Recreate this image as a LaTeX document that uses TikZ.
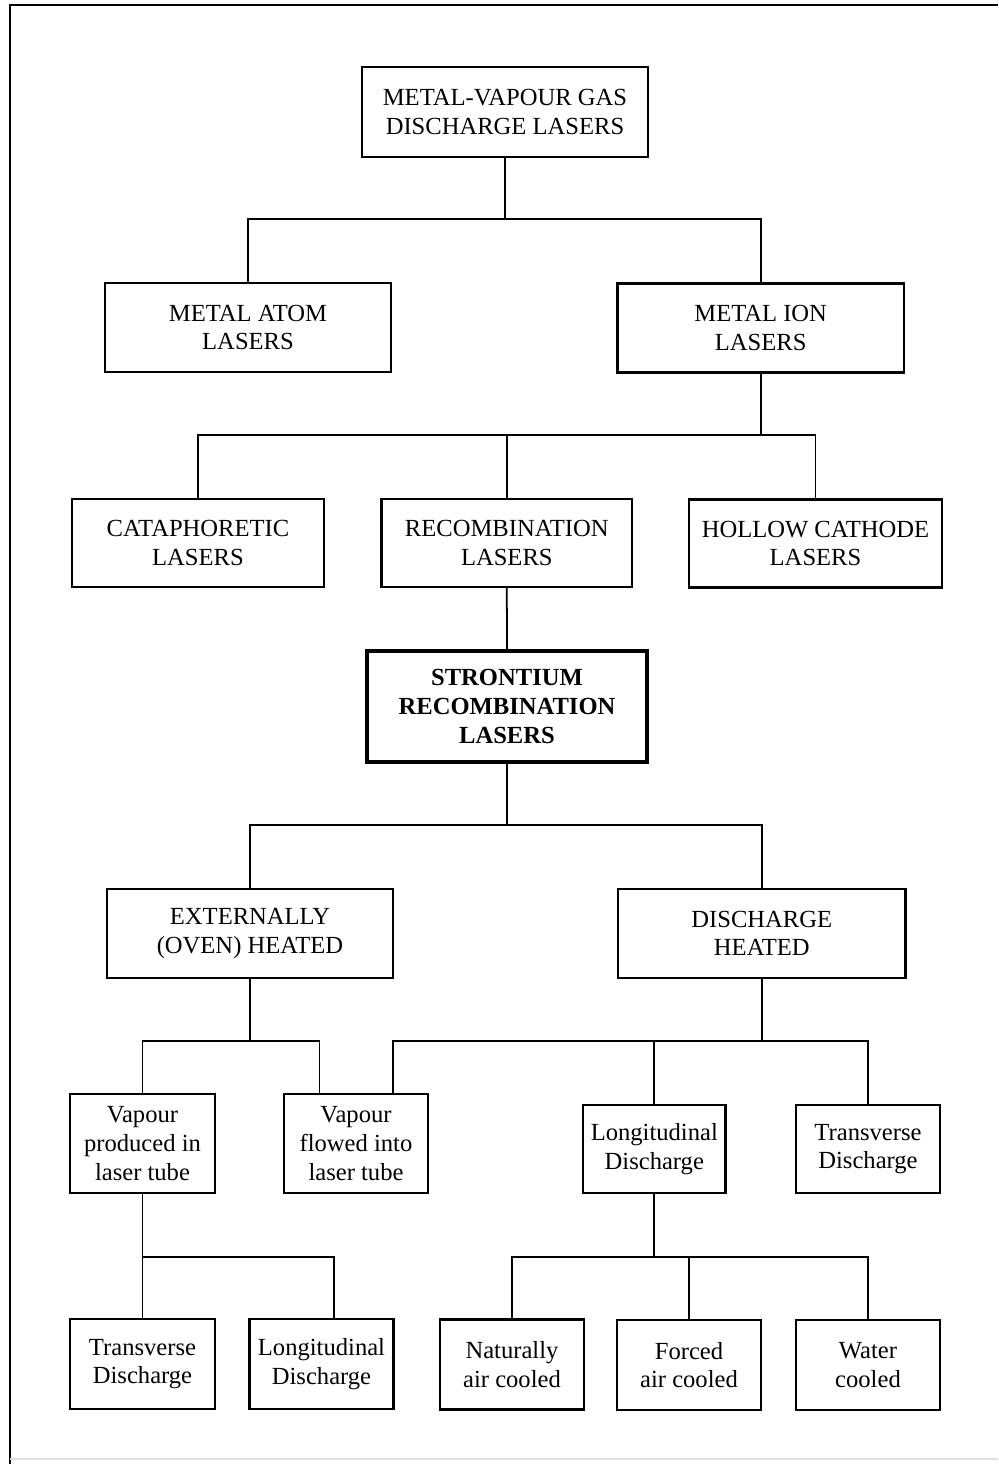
\documentclass[tikz,border=0pt]{standalone}
\usepackage{fontspec}
\setmainfont{Liberation Serif}
\tikzset{
  box/.style={draw, line width=1.3pt, align=center, inner sep=0pt, minimum width=2.88cm, minimum height=1.78cm, font=\fontsize{14}{16.4}\selectfont},
  widebox/.style={box, minimum width=5.73cm},
  strbox/.style={box, line width=2.4pt, minimum width=5.6cm, minimum height=2.22cm, font=\fontsize{14}{16.4}\selectfont\bfseries},
  link/.style={line width=1pt}
}
\begin{document}
\begin{tikzpicture}[x=0.02cm, y=-0.02cm]
                \useasboundingbox (0,0) rectangle (998,1464);
                \draw[line width=1pt] (10,1464) -- (10,5) -- (998,5);
                \draw[gray!25, line width=0.6pt] (10,1459) -- (998,1459);
                \node[widebox, minimum height=1.8cm] (mv) at (505,112) {METAL-VAPOUR GAS\\DISCHARGE LASERS};
                \node[widebox] (atom) at (248,327.5) {METAL ATOM\\LASERS};
                \node[widebox] (ion) at (760.7,328) {METAL ION\\LASERS};
                \node[box, minimum width=5.04cm, minimum height=1.76cm] (cata) at (198,543) {CATAPHORETIC\\LASERS};
                \node[box, minimum width=5.01cm, minimum height=1.76cm] (recomb) at (506.8,543) {RECOMBINATION\\LASERS};
                \node[box, minimum width=5.06cm, minimum height=1.76cm] (hollow) at (815.5,543.5) {HOLLOW CATHODE\\LASERS};
                \node[strbox] (sr) at (507,706.5) {STRONTIUM\\RECOMBINATION\\LASERS};
                \node[widebox, minimum width=5.72cm] (oven) at (250,933.3) {EXTERNALLY\\(OVEN) HEATED};
                \node[widebox, minimum width=5.75cm] (dheat) at (761.8,933.3) {DISCHARGE\\HEATED};
                \node[box, minimum width=2.9cm, minimum height=1.98cm] (vprod) at (142.5,1143.5) {Vapour\\produced in\\laser tube};
                \node[box, minimum width=2.87cm, minimum height=1.98cm] (vflow) at (356,1143.5) {Vapour\\flowed into\\laser tube};
                \node[box, minimum width=2.85cm, minimum height=1.76cm] (longd) at (654.3,1149) {Longitudinal\\Discharge};
                \node[box, minimum height=1.76cm] (transd) at (868,1149) {Transverse\\Discharge};
                \node[box, minimum width=2.9cm, minimum height=1.8cm] (trans2) at (142.5,1364) {Transverse\\Discharge};
                \node[box, minimum height=1.8cm] (long2) at (321.5,1364) {Longitudinal\\Discharge};
                \node[box, minimum height=1.8cm] (natair) at (512,1364.5) {Naturally\\air cooled};
                \node[box, minimum height=1.8cm] (forcair) at (689,1365) {Forced\\air cooled};
                \node[box, minimum height=1.8cm] (water) at (868,1365) {Water\\cooled};
                \coordinate (j1) at (505,219);
                \coordinate (j2) at (760.7,435);
                \coordinate (j3) at (507,825);
                \coordinate (j4) at (250,1041);
                \coordinate (j5) at (761.8,1041);
                \coordinate (j6) at (142.5,1257);
                \coordinate (j7) at (654.3,1257);
                \coordinate (vflowL) at (vflow.north -| 319.5,0);
                \coordinate (vflowR) at (vflow.north -| 392.7,0);
                \coordinate (long2T) at (long2.north -| 334,0);
                \begin{scope}[link]
                    \draw (mv.south) -- (j1);
                    \draw (atom.north) |- (j1) -| (ion.north);
                    \draw (ion.south) -- (j2);
                    \draw (cata.north) |- (j2) -| (hollow.north);
                    \draw (recomb.north) -- (recomb.north |- j2);
                    \draw (recomb.south) -- (sr.north);
                    \draw (sr.south) -- (j3);
                    \draw (oven.north) |- (j3) -| (dheat.north);
                    \draw (oven.south) -- (j4);
                    \draw (vprod.north) |- (j4) -| (vflowL);
                    \draw (dheat.south) -- (j5);
                    \draw (vflowR) |- (j5) -| (transd.north);
                    \draw (longd.north) -- (longd.north |- j5);
                    \draw (vprod.south) -- (j6);
                    \draw (trans2.north) -- (j6) -| (long2T);
                    \draw (longd.south) -- (j7);
                    \draw (natair.north) |- (j7) -| (water.north);
                    \draw (forcair.north) -- (forcair.north |- j7);
                \end{scope}
            \end{tikzpicture}
\end{document}
